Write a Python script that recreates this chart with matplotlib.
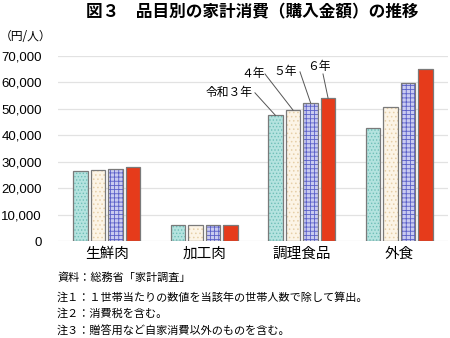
import matplotlib
matplotlib.use("Agg")
import matplotlib.pyplot as plt
import numpy as np

plt.rcParams['font.family'] = ['Noto Sans CJK JP', 'DejaVu Sans']
plt.rcParams['hatch.linewidth'] = 0.6

categories = ['生鮮肉', '加工肉', '調理食品', '外食']
years = ['令和３年', '４年', '５年', '６年']
values = {
    '令和３年': [26500, 6100, 47500, 42600],
    '４年': [26800, 6150, 49500, 50600],
    '５年': [27400, 6200, 52300, 59600],
    '６年': [27900, 6200, 54000, 64800],
}
yticks = [0, 10000, 20000, 30000, 40000, 50000, 60000, 70000]

fills = ['#B4E3DF', '#FCF4E6', '#C9CBF0', '#E63B1B']
hatch_colors = ['#6FBFB8', '#E6CFA8', '#5A5FC8', '#E63B1B']
hatches = ['.....', '....', '++++', '']
edge = '#7A7A7A'

fig = plt.figure(figsize=(4.5, 3.38), dpi=100)
ax = fig.add_axes([58/450, 1-241.3/338, 390/450, (241.3-55.7)/338])

x = np.arange(len(categories))
pitch = 0.18
width = 0.149
offsets = [-1.5*pitch, -0.5*pitch, 0.5*pitch, 1.5*pitch]
for i, yr in enumerate(years):
    ax.bar(x + offsets[i], values[yr], width, color=fills[i], hatch=hatches[i],
           edgecolor=hatch_colors[i], linewidth=0, zorder=3)
    ax.bar(x + offsets[i], values[yr], width, fill=False,
           edgecolor=edge, linewidth=0.9, zorder=4)

ax.set_xlim(-0.5, 3.5)
ax.set_ylim(0, 70000)
ax.set_yticks(yticks)
ax.set_yticklabels([f'{v:,}' for v in yticks], family=['Liberation Sans', 'Noto Sans CJK JP'], fontsize=9.5)
ax.set_xticks(x)
ax.set_xticklabels(categories, fontsize=10.5)
ax.tick_params(axis='y', length=0, pad=11.5)
ax.tick_params(axis='x', length=0, pad=4)
for s in ax.spines.values():
    s.set_visible(False)
ax.grid(axis='y', color='#E2E2E2', linewidth=0.9, zorder=0)
ax.set_axisbelow(True)

# annotations for years on 調理食品
ci = 2
ann = [
    (0, (1.259, 55960), (1.52, 56000)),
    (1, (1.50, 63100), (1.623, 63100)),
    (2, (1.828, 63900), (1.982, 63900)),
    (3, (2.177, 65900), (2.218, 63100)),
]
for i, tpos, lstart in ann:
    yr = years[i]
    ax.text(tpos[0], tpos[1], yr, ha='center', va='center', fontsize=8.5, zorder=6)
    bx = ci + offsets[i]
    by = values[yr][ci]
    ax.plot([lstart[0], bx], [lstart[1], by], color='#555555', linewidth=0.7, zorder=5)

fig.text(252/450, 1-12/338, '図３　品目別の家計消費（購入金額）の推移', ha='center', va='center',
         fontsize=12, fontweight='bold')
fig.text(0.0, 1-37/338, '（円/人）', ha='left', va='center', fontsize=8.5)

notes = ['資料：総務省「家計調査」',
         '注１：１世帯当たりの数値を当該年の世帯人数で除して算出。',
         '注２：消費税を含む。',
         '注３：贈答用など自家消費以外のものを含む。']
ys = [278, 297, 314, 331]
for n, yy in zip(notes, ys):
    fig.text(57/450, 1-yy/338, n, ha='left', va='center', fontsize=8)

fig.savefig('out.png', dpi=100)
